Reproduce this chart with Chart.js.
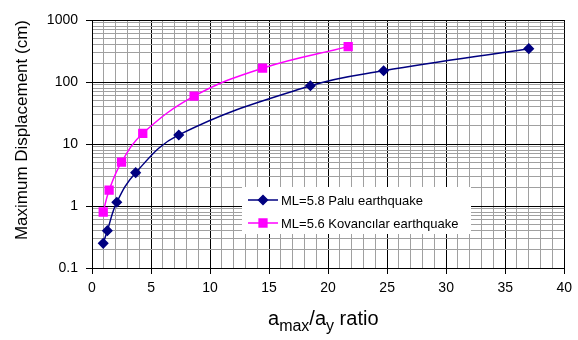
<!DOCTYPE html>
<html>
<head>
<meta charset="utf-8">
<script src="https://cdn.jsdelivr.net/npm/chart.js@4"></script>
<style>
  html, body { margin: 0; padding: 0; background: #fff; }
  #wrap { position: relative; width: 578px; height: 340px; }
  #xtitle {
    position: absolute; left: 268px; top: 308px;
    font-family: 'Liberation Sans', Arial, sans-serif; font-size: 20px; line-height: 20px;
    color: #000; white-space: nowrap;
  }
  #xtitle span { font-size: 16px; vertical-align: -6px; }
</style>
</head>
<body>
<div id="wrap">
  <canvas id="chart" width="578" height="340"></canvas>
  <div id="xtitle">a<span>max</span>/a<span>y</span> ratio</div>
</div>
<script>
const paluLabel = 'ML=5.8 Palu earthquake';
const paluRatio = [0.95, 1.3, 2.1, 3.7, 7.35, 18.5, 24.7, 37.0];
const paluDisp = [0.25, 0.4, 1.15, 3.45, 14, 87, 152, 345];

const kovLabel = 'ML=5.6 Kovancılar earthquake';
const kovRatio = [0.95, 1.45, 2.5, 4.3, 8.65, 14.45, 21.7];
const kovDisp = [0.8, 1.8, 5.1, 14.8, 59, 167, 372];

const yTitle = 'Maximum Displacement (cm)';

const FONT = "'Liberation Sans', Arial, sans-serif";
const GRID_MINOR = '#a0a0a0';

function toPoints(xs, ys) {
    return xs.map((x, i) => ({ x: x, y: ys[i] }));
}

function isDecade(v) {
    const l = Math.log10(v);
    return Math.abs(l - Math.round(l)) < 1e-9;
}

// legend drawn inside the plot, like the original
const insideLegend = {
    id: 'insideLegend',
    afterDatasetsDraw(chart) {
        const ctx = chart.ctx;
        const box = { x: 242, y: 187, w: 229, h: 47 };
        ctx.save();
        ctx.fillStyle = '#fff';
        ctx.fillRect(box.x, box.y, box.w, box.h);
        chart.data.datasets.forEach((ds, i) => {
            const y = 200 + i * 23;
            ctx.strokeStyle = ds.borderColor;
            ctx.lineWidth = ds.borderWidth;
            ctx.beginPath();
            ctx.moveTo(248, y);
            ctx.lineTo(278, y);
            ctx.stroke();
            Chart.helpers.drawPoint(ctx, {
                pointStyle: ds.pointStyle, radius: ds.pointRadius, borderWidth: 1
            }, 263, y);
            ctx.fillStyle = ds.pointBackgroundColor;
            ctx.fill();
            ctx.fillStyle = '#000';
            ctx.font = '13px ' + FONT;
            ctx.textBaseline = 'middle';
            ctx.fillText(ds.label, 281, y + 1);
        });
        ctx.restore();
    }
};

const ctx = document.getElementById('chart').getContext('2d');
const chart = new Chart(ctx, {
    type: 'line',
    data: {
        datasets: [{
            label: paluLabel,
            data: toPoints(paluRatio, paluDisp),
            borderColor: '#000080',
            backgroundColor: '#000080',
            pointBackgroundColor: '#000080',
            pointBorderColor: '#000080',
            borderWidth: 1.5,
            pointStyle: 'rectRot',
            pointRadius: 4.5,
            tension: 0.4
        }, {
            label: kovLabel,
            data: toPoints(kovRatio, kovDisp),
            borderColor: '#ff00ff',
            backgroundColor: '#ff00ff',
            pointBackgroundColor: '#ff00ff',
            pointBorderColor: '#ff00ff',
            borderWidth: 1.5,
            pointStyle: 'rect',
            pointRadius: 5.5,
            tension: 0.4
        }]
    },
    options: {
        responsive: false,
        animation: false,
        devicePixelRatio: 1,
        layout: { padding: { top: 20, right: 10, left: 0, bottom: 0 } },
        plugins: {
            legend: { display: false },
            tooltip: { enabled: false }
        },
        scales: {
            x: {
                type: 'linear',
                min: 0,
                max: 40,
                afterFit: (scale) => { scale.height = 72; },
                ticks: {
                    stepSize: 1,
                    autoSkip: false,
                    maxRotation: 0,
                    padding: 6,
                    color: '#000',
                    font: { family: FONT, size: 14 },
                    callback: (v) => (v % 5 === 0 ? String(v) : '')
                },
                grid: {
                    color: (c) => (c.tick && c.tick.value % 5 === 0 ? '#000' : GRID_MINOR),
                    tickColor: (c) => (c.tick && c.tick.value % 5 === 0 ? '#000' : 'rgba(0,0,0,0)'),
                    tickLength: 6,
                    lineWidth: 1
                },
                border: { color: '#000', width: 1 }
            },
            y: {
                type: 'logarithmic',
                min: 0.1,
                max: 1000,
                afterFit: (scale) => { scale.width = 92; },
                afterBuildTicks: (scale) => {
                    const ticks = [];
                    for (let e = -1; e <= 2; e++) {
                        for (let m = 1; m <= 9; m++) {
                            ticks.push({ value: m * Math.pow(10, e) });
                        }
                    }
                    ticks.push({ value: 1000 });
                    scale.ticks = ticks;
                },
                ticks: {
                    autoSkip: false,
                    padding: 8,
                    color: '#000',
                    font: { family: FONT, size: 14 },
                    callback: (v) => (isDecade(v) ? String(Number(v.toPrecision(3))) : '')
                },
                grid: {
                    color: (c) => (c.tick && isDecade(c.tick.value) ? '#000' : GRID_MINOR),
                    tickColor: (c) => (c.tick && isDecade(c.tick.value) ? '#000' : 'rgba(0,0,0,0)'),
                    tickLength: 6,
                    lineWidth: 1
                },
                border: { color: '#000', width: 1 },
                title: {
                    display: true,
                    text: yTitle,
                    align: 'end',
                    color: '#000',
                    font: { family: FONT, size: 17 },
                    padding: { top: 12, bottom: 0 }
                }
            }
        }
    },
    plugins: [insideLegend]
});
</script>
</body>
</html>
